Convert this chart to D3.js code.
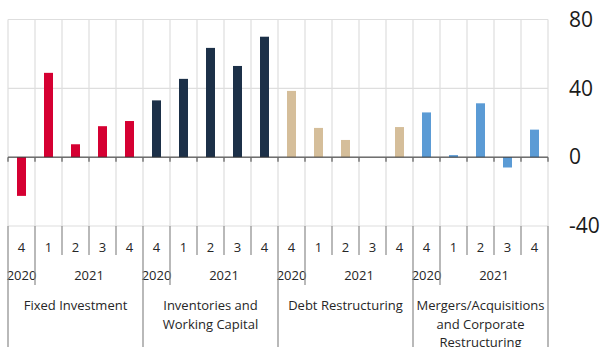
<!DOCTYPE html>
<html>
<head>
<meta charset="utf-8">
<script src="https://cdn.jsdelivr.net/npm/d3@7"></script>
<style>
  html, body { margin: 0; padding: 0; background: #fff; }
  svg { display: block; font-family: "Open Sans", sans-serif; }
</style>
</head>
<body>
<svg id="chart" width="600" height="347"></svg>
<script>
// Category hierarchy: purpose group -> year -> quarter
const groupLabels = [
  ["Fixed Investment"],
  ["Inventories and", "Working Capital"],
  ["Debt Restructuring"],
  ["Mergers/Acquisitions", "and Corporate", "Restructuring"]
];
const quarterLabels = ["4", "1", "2", "3", "4"];
const yearLabels = ["2020", "2021"];
const yearSpans = [1, 4];

// Net percentage per quarter, one array per group
const fixedInvestment = [-22.5, 49, 7.5, 18, 21];
const inventoriesWorkingCapital = [33, 45.5, 63.5, 53, 70];
const debtRestructuring = [38.5, 17, 10, 0, 17.5];
const mergersRestructuring = [26, 1.2, 31.3, -6, 16];

const groupColors = ["#d50032", "#1c3048", "#d5be9a", "#5b9bd5"];
const yTicks = [-40, 0, 40, 80];

const seriesByGroup = [fixedInvestment, inventoriesWorkingCapital, debtRestructuring, mergersRestructuring];

// Flatten into one row per column
const rows = [];
seriesByGroup.forEach((vals, g) => {
  vals.forEach((v, q) => rows.push({ key: g + "-" + q, group: g, q, value: v }));
});

const svg = d3.select("#chart");
const plotLeft = 8, plotRight = 548, plotTop = 19.5, plotBottom = 226;

const x = d3.scaleBand().domain(rows.map(d => d.key)).range([plotLeft, plotRight]).padding(0);
const y = d3.scaleLinear().domain([-40, 80]).range([plotBottom, plotTop]);
const bw = x.bandwidth();

// Horizontal gridlines
svg.append("g").selectAll("line").data(yTicks).join("line")
  .attr("x1", plotLeft).attr("x2", plotRight)
  .attr("y1", d => y(d)).attr("y2", d => y(d))
  .attr("stroke", "#dedede").attr("stroke-width", 1.2);

// Vertical gridlines at column boundaries
const boundaries = rows.map(d => x(d.key)).concat([plotRight]);
svg.append("g").selectAll("line").data(boundaries).join("line")
  .attr("x1", d => d).attr("x2", d => d)
  .attr("y1", plotTop).attr("y2", plotBottom)
  .attr("stroke", "#dedede").attr("stroke-width", 1.2);

// Bars
svg.append("g").selectAll("rect").data(rows).join("rect")
  .attr("x", d => x(d.key) + bw / 3)
  .attr("width", bw / 3)
  .attr("y", d => y(Math.max(0, d.value)))
  .attr("height", d => Math.abs(y(d.value) - y(0)))
  .attr("fill", d => groupColors[d.group]);

// Zero line with small ticks
svg.append("line")
  .attr("x1", plotLeft).attr("x2", plotRight)
  .attr("y1", y(0)).attr("y2", y(0))
  .attr("stroke", "#333").attr("stroke-width", 1);
svg.append("g").selectAll("line").data(boundaries).join("line")
  .attr("x1", d => d).attr("x2", d => d)
  .attr("y1", y(0)).attr("y2", y(0) + 4.5)
  .attr("stroke", "#666").attr("stroke-width", 1.3);

// Right value axis (plain hyphen for negatives)
const yAxis = d3.axisRight(y).tickValues(yTicks).tickSize(0).tickPadding(21).tickFormat(d => String(d));
const ya = svg.append("g").attr("transform", `translate(${plotRight},0)`).call(yAxis);
ya.select(".domain").remove();
ya.selectAll("text").attr("font-size", 21).attr("fill", "#1a1a1a")
  .attr("font-family", "'Open Sans', sans-serif");

// Multi-level category axis
const axisColor = "#8a8a8a";
const textColor = "#262626";
const qBottom = 255, yrBottom = 285, groupBottom = 347;
const cat = svg.append("g").attr("font-size", 13).attr("fill", textColor).attr("text-anchor", "middle");

// Level 1: quarters
cat.selectAll("text.q").data(rows).join("text").attr("class", "q")
  .attr("x", d => x(d.key) + bw / 2).attr("y", 251.5)
  .text(d => quarterLabels[d.q]);

// Dividers between quarters within a year
const qDividers = rows.filter(d => d.q > 1);
cat.selectAll("line.qd").data(qDividers).join("line").attr("class", "qd")
  .attr("x1", d => x(d.key)).attr("x2", d => x(d.key))
  .attr("y1", plotBottom).attr("y2", qBottom)
  .attr("stroke", axisColor).attr("stroke-width", 1.2);

// Level 2: years
const yearCells = [];
groupLabels.forEach((_, g) => {
  let start = 0;
  yearLabels.forEach((yr, i) => {
    const k0 = g + "-" + start;
    const k1 = g + "-" + (start + yearSpans[i] - 1);
    yearCells.push({ label: yr, x0: x(k0), x1: x(k1) + bw, first: start === 0 });
    start += yearSpans[i];
  });
});
cat.selectAll("text.yr").data(yearCells).join("text").attr("class", "yr")
  .attr("x", d => (d.x0 + d.x1) / 2).attr("y", 280)
  .text(d => d.label);
cat.selectAll("line.yd").data(yearCells.filter(d => !d.first)).join("line").attr("class", "yd")
  .attr("x1", d => d.x0).attr("x2", d => d.x0)
  .attr("y1", plotBottom).attr("y2", yrBottom)
  .attr("stroke", axisColor).attr("stroke-width", 1.2);

// Level 3: purpose groups
const groupCells = groupLabels.map((lines, g) => ({
  lines,
  x0: x(g + "-0"),
  x1: x(g + "-" + (quarterLabels.length - 1)) + bw
}));
const gt = cat.selectAll("text.grp").data(groupCells).join("text").attr("class", "grp")
  .attr("x", d => (d.x0 + d.x1) / 2).attr("y", 310);
gt.selectAll("tspan").data(d => d.lines.map(l => ({ l, cx: (d.x0 + d.x1) / 2 }))).join("tspan")
  .attr("x", d => d.cx).attr("dy", (d, i) => i === 0 ? 0 : 18.5)
  .text(d => d.l);

const groupEdges = groupCells.map(d => d.x0).concat([plotRight]);
cat.selectAll("line.gd").data(groupEdges).join("line").attr("class", "gd")
  .attr("x1", d => d).attr("x2", d => d)
  .attr("y1", plotBottom).attr("y2", groupBottom)
  .attr("stroke", axisColor).attr("stroke-width", 1.2);
</script>
</body>
</html>
